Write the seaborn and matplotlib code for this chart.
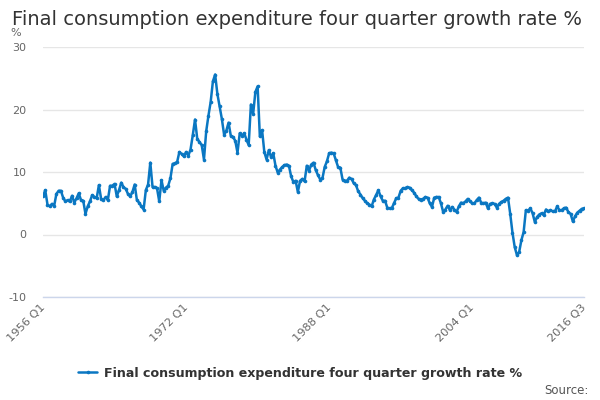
import matplotlib
matplotlib.use("Agg")
import matplotlib.pyplot as plt
import seaborn as sns
import pandas as pd
import numpy as np

first_year = 1956
growth = [
    6.1, 7.1, 4.8, 4.5, 4.9, 4.6, 6.5, 7.0, 7.0, 5.9, 5.3, 5.5, 5.3, 6.2, 5.1, 5.8,
    6.6, 5.5, 5.4, 3.3, 4.5, 5.3, 6.3, 6.0, 5.8, 7.9, 5.7, 5.5, 6.0, 5.5, 7.8, 7.8,
    8.1, 6.1, 7.1, 8.3, 7.6, 7.3, 6.5, 6.1, 6.8, 8.0, 5.5, 5.1, 4.5, 4.0, 7.1, 8.0,
    11.5, 7.6, 7.6, 7.4, 5.3, 8.7, 7.0, 7.5, 7.8, 9.0, 11.3, 11.4, 11.6, 13.2, 12.9, 12.5,
    13.2, 12.6, 13.6, 15.9, 18.4, 15.3, 14.8, 14.3, 12.0, 16.5, 19.0, 21.2, 24.5, 25.6, 22.5, 20.5,
    18.5, 16.0, 16.6, 17.9, 15.8, 15.6, 15.0, 13.1, 16.2, 15.8, 16.2, 15.2, 14.3, 20.8, 19.3, 22.8,
    23.7, 15.7, 16.7, 13.2, 12.0, 13.5, 12.4, 13.0, 11.0, 9.9, 10.4, 10.8, 11.1, 11.2, 11.0, 9.3,
    8.4, 8.6, 6.8, 8.6, 8.9, 8.5, 11.0, 10.2, 11.2, 11.5, 10.3, 9.5, 8.8, 9.0, 10.8, 11.7,
    13.0, 13.1, 13.0, 11.9, 10.8, 10.7, 8.8, 8.6, 8.6, 9.1, 8.9, 8.2, 7.9, 6.9, 6.4, 5.8,
    5.4, 5.0, 4.8, 4.5, 5.6, 6.3, 7.1, 6.1, 5.4, 5.4, 4.3, 4.2, 4.2, 5.0, 5.8, 5.9,
    7.0, 7.4, 7.4, 7.6, 7.5, 7.1, 6.7, 6.1, 5.7, 5.6, 5.7, 6.0, 5.9, 5.0, 4.4, 5.9,
    6.0, 6.0, 5.0, 3.6, 4.0, 4.6, 3.9, 4.4, 4.0, 3.6, 4.5, 5.1, 5.0, 5.3, 5.7, 5.3,
    5.0, 5.0, 5.5, 5.9, 5.1, 5.0, 5.1, 4.2, 4.9, 5.0, 4.9, 4.3, 4.9, 5.2, 5.4, 5.7,
    5.9, 3.3, 0.3, -2.0, -3.3, -2.8, -0.9, 0.4, 3.9, 3.8, 4.2, 3.4, 2.0, 2.8, 3.2, 3.4,
    3.1, 4.0, 3.7, 3.9, 3.7, 3.7, 4.5, 3.9, 3.9, 4.2, 4.3, 3.6, 3.3, 2.1, 2.9, 3.5,
    3.8, 4.1, 4.2,
]
quarters = [f"{first_year + i // 4} Q{i % 4 + 1}" for i in range(len(growth))]
labelled = ["1956 Q1", "1972 Q1", "1988 Q1", "2004 Q1", "2016 Q3"]
y_ticks = [-10, 0, 10, 20, 30]
series_name = "Final consumption expenditure four quarter growth rate %"
title_text = "Final consumption expenditure four quarter growth rate %"

df = pd.DataFrame({"idx": range(len(growth)), "quarter": quarters, "value": growth})

sns.set_theme(style="white")
plt.rcParams["font.family"] = ["DejaVu Sans"]

line_color = "#0a77c2"
fig = plt.figure(figsize=(6, 4), dpi=100)
ax = fig.add_axes([43 / 600, 1 - 297 / 400, (584 - 43) / 600, (297 - 47) / 400])

sns.lineplot(data=df, x="idx", y="value", ax=ax, color=line_color, linewidth=1.8,
             marker="o", markersize=2.6, markeredgewidth=0, label=series_name, legend=False)

ax.set_xlim(0, len(growth) - 1)
ax.set_ylim(-10, 30)
ax.set_yticks(y_ticks)
ax.set_yticklabels([str(v) for v in y_ticks], color="#666666", fontsize=8)
ax.tick_params(axis="y", length=0, pad=12)
ax.yaxis.grid(True, color="#e6e6e6", linewidth=1)
ax.xaxis.grid(False)
for s in ["left", "right", "top"]:
    ax.spines[s].set_visible(False)
ax.spines["bottom"].set_color("#ccd6eb")
ax.spines["bottom"].set_linewidth(1)

tick_pos = list(range(0, len(growth), 16))
ax.set_xticks(tick_pos)
ax.set_xticklabels([])
ax.tick_params(axis="x", length=9, width=1, color="#ccd6eb", direction="out")
offset = matplotlib.transforms.ScaledTranslation(-3 / 100, -5 / 100, fig.dpi_scale_trans)
for lab in labelled:
    i = quarters.index(lab)
    ax.text(i, -10, lab, transform=ax.transData + offset, rotation=45, ha="right", va="top",
            rotation_mode="anchor", color="#666666", fontsize=8.2)

ax.set_xlabel("")
ax.set_ylabel("")

fig.text(12 / 600, 1 - 25 / 400, title_text, fontsize=14.0, color="#333333", ha="left", va="baseline")
fig.text(10 / 600, 1 - 36 / 400, "%", fontsize=8, color="#666666", ha="left", va="baseline")
fig.text(589 / 600, 1 - 394 / 400, "Source:", fontsize=8.5, color="#555555", ha="right", va="baseline")

handle = matplotlib.lines.Line2D([], [], color=line_color, linewidth=1.8, marker="o", markersize=2.6, markeredgewidth=0)
fig.legend([handle], [series_name], loc="center", bbox_to_anchor=(300 / 600, 1 - 373 / 400),
           frameon=False, prop={"weight": "bold", "size": 9.05}, handlelength=1.5,
           handletextpad=0.5, labelcolor="#333333")

fig.savefig("out.png", dpi=100)
